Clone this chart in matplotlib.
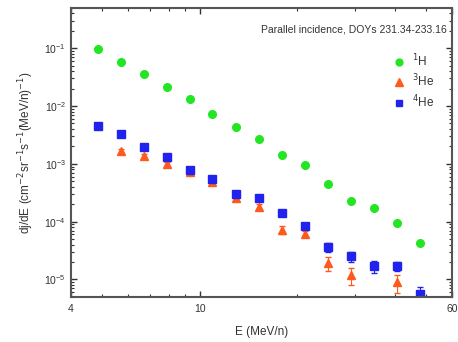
import numpy as np
import matplotlib
matplotlib.use("Agg")
import matplotlib.pyplot as plt
from matplotlib.ticker import LogLocator, NullFormatter, FixedLocator

plt.rcParams["font.family"] = ["Liberation Sans", "DejaVu Sans"]

# energy bins (MeV/n)
E = [4.84, 5.7, 6.7, 7.9, 9.3, 10.9, 12.9, 15.2, 17.9, 21.1, 24.8, 29.3, 34.5, 40.6, 47.9]

# 1H
h1 = [0.096, 0.057, 0.036, 0.021, 0.013, 0.0074, 0.0044, 0.0027, 0.0014, 9.5e-4,
      4.5e-4, 2.26e-4, 1.75e-4, 9.3e-5, 4.3e-5]

# 3He (no value in the first and in two high bins)
E_he3 = [5.7, 6.7, 7.9, 9.3, 10.9, 12.9, 15.2, 17.9, 21.1, 24.8, 29.3, 40.6]
he3 = [1.66e-3, 1.35e-3, 9.8e-4, 7.2e-4, 4.8e-4, 2.6e-4, 1.8e-4, 7.3e-5, 6.2e-5,
       1.9e-5, 1.2e-5, 8.9e-6]
he3_err = [1.5e-4, 1.4e-4, 1.0e-4, 7e-5, 5e-5, 2.5e-5, 2.0e-5, 1.2e-5, 8e-6,
           5e-6, 4e-6, 3e-6]

# 4He
he4 = [4.5e-3, 3.3e-3, 1.95e-3, 1.3e-3, 7.9e-4, 5.5e-4, 3.0e-4, 2.6e-4, 1.4e-4,
       8.3e-5, 3.6e-5, 2.5e-5, 1.7e-5, 1.7e-5, 5.5e-6]
he4_err = [2e-4, 1.5e-4, 9e-5, 6e-5, 4e-5, 3e-5, 2e-5, 2e-5, 1.2e-5,
           8e-6, 6e-6, 5e-6, 4e-6, 3e-6, 2e-6]

green, orange, blue = "#22e622", "#ff5a1e", "#2222ee"

fig = plt.figure(figsize=(4.58, 3.42), dpi=100)
ax = fig.add_axes([0.155, 0.132, 0.832, 0.845])

c1 = ax.errorbar(E, h1, fmt="o", color=green, ms=5.5, mec=green, label="$^{1}$H")
c3 = ax.errorbar(E_he3, he3, yerr=he3_err, fmt="^", color=orange, ms=6, mec=orange,
                 elinewidth=0.8, capsize=2, label="$^{3}$He")
c4 = ax.errorbar(E, he4, yerr=he4_err, fmt="s", color=blue, ms=5.5, mec=blue,
                 elinewidth=0.8, capsize=2, label="$^{4}$He")

ax.set_xscale("log")
ax.set_yscale("log")
ax.set_xlim(4, 60)
ax.set_ylim(5e-6, 0.5)

ax.xaxis.set_major_locator(FixedLocator([4, 10, 60]))
ax.set_xticklabels(["4", "10", "60"])
ax.xaxis.set_minor_locator(FixedLocator([5, 6, 7, 8, 9, 20, 30, 40, 50]))
ax.xaxis.set_minor_formatter(NullFormatter())
ax.yaxis.set_major_locator(LogLocator(base=10, numticks=10))
ax.yaxis.set_minor_locator(LogLocator(base=10, subs=np.arange(2, 10), numticks=20))
ax.yaxis.set_minor_formatter(NullFormatter())

ax.tick_params(which="both", direction="in", top=True, right=True, colors="#333333",
               labelsize=7.5)
ax.tick_params(which="major", length=4, width=1)
ax.tick_params(which="minor", length=2.5, width=0.8)
ax.tick_params(axis="x", which="major", pad=5)
for s in ax.spines.values():
    s.set_color("#555555")
    s.set_linewidth(1.5)

ax.set_xlabel("E (MeV/n)", fontsize=8.5, color="#333333", labelpad=9)
ax.set_ylabel("dj/dE (cm$^{-2}$sr$^{-1}$s$^{-1}$(MeV/n)$^{-1}$)", fontsize=8.5,
              color="#333333", labelpad=6)

ax.text(0.985, 0.925, "Parallel incidence, DOYs 231.34-233.16", transform=ax.transAxes,
        ha="right", va="center", fontsize=7.5, color="#333333")

leg = ax.legend(handles=[c1[0], c3[0], c4[0]], labels=["$^{1}$H", "$^{3}$He", "$^{4}$He"],
                loc="upper right", bbox_to_anchor=(0.975, 0.875), frameon=False,
                fontsize=8.5, handletextpad=0.6, labelspacing=0.35, handlelength=1.0,
                borderaxespad=0.3, markerscale=0.9)
for t in leg.get_texts():
    t.set_color("#333333")

fig.savefig("out.png", dpi=100)
